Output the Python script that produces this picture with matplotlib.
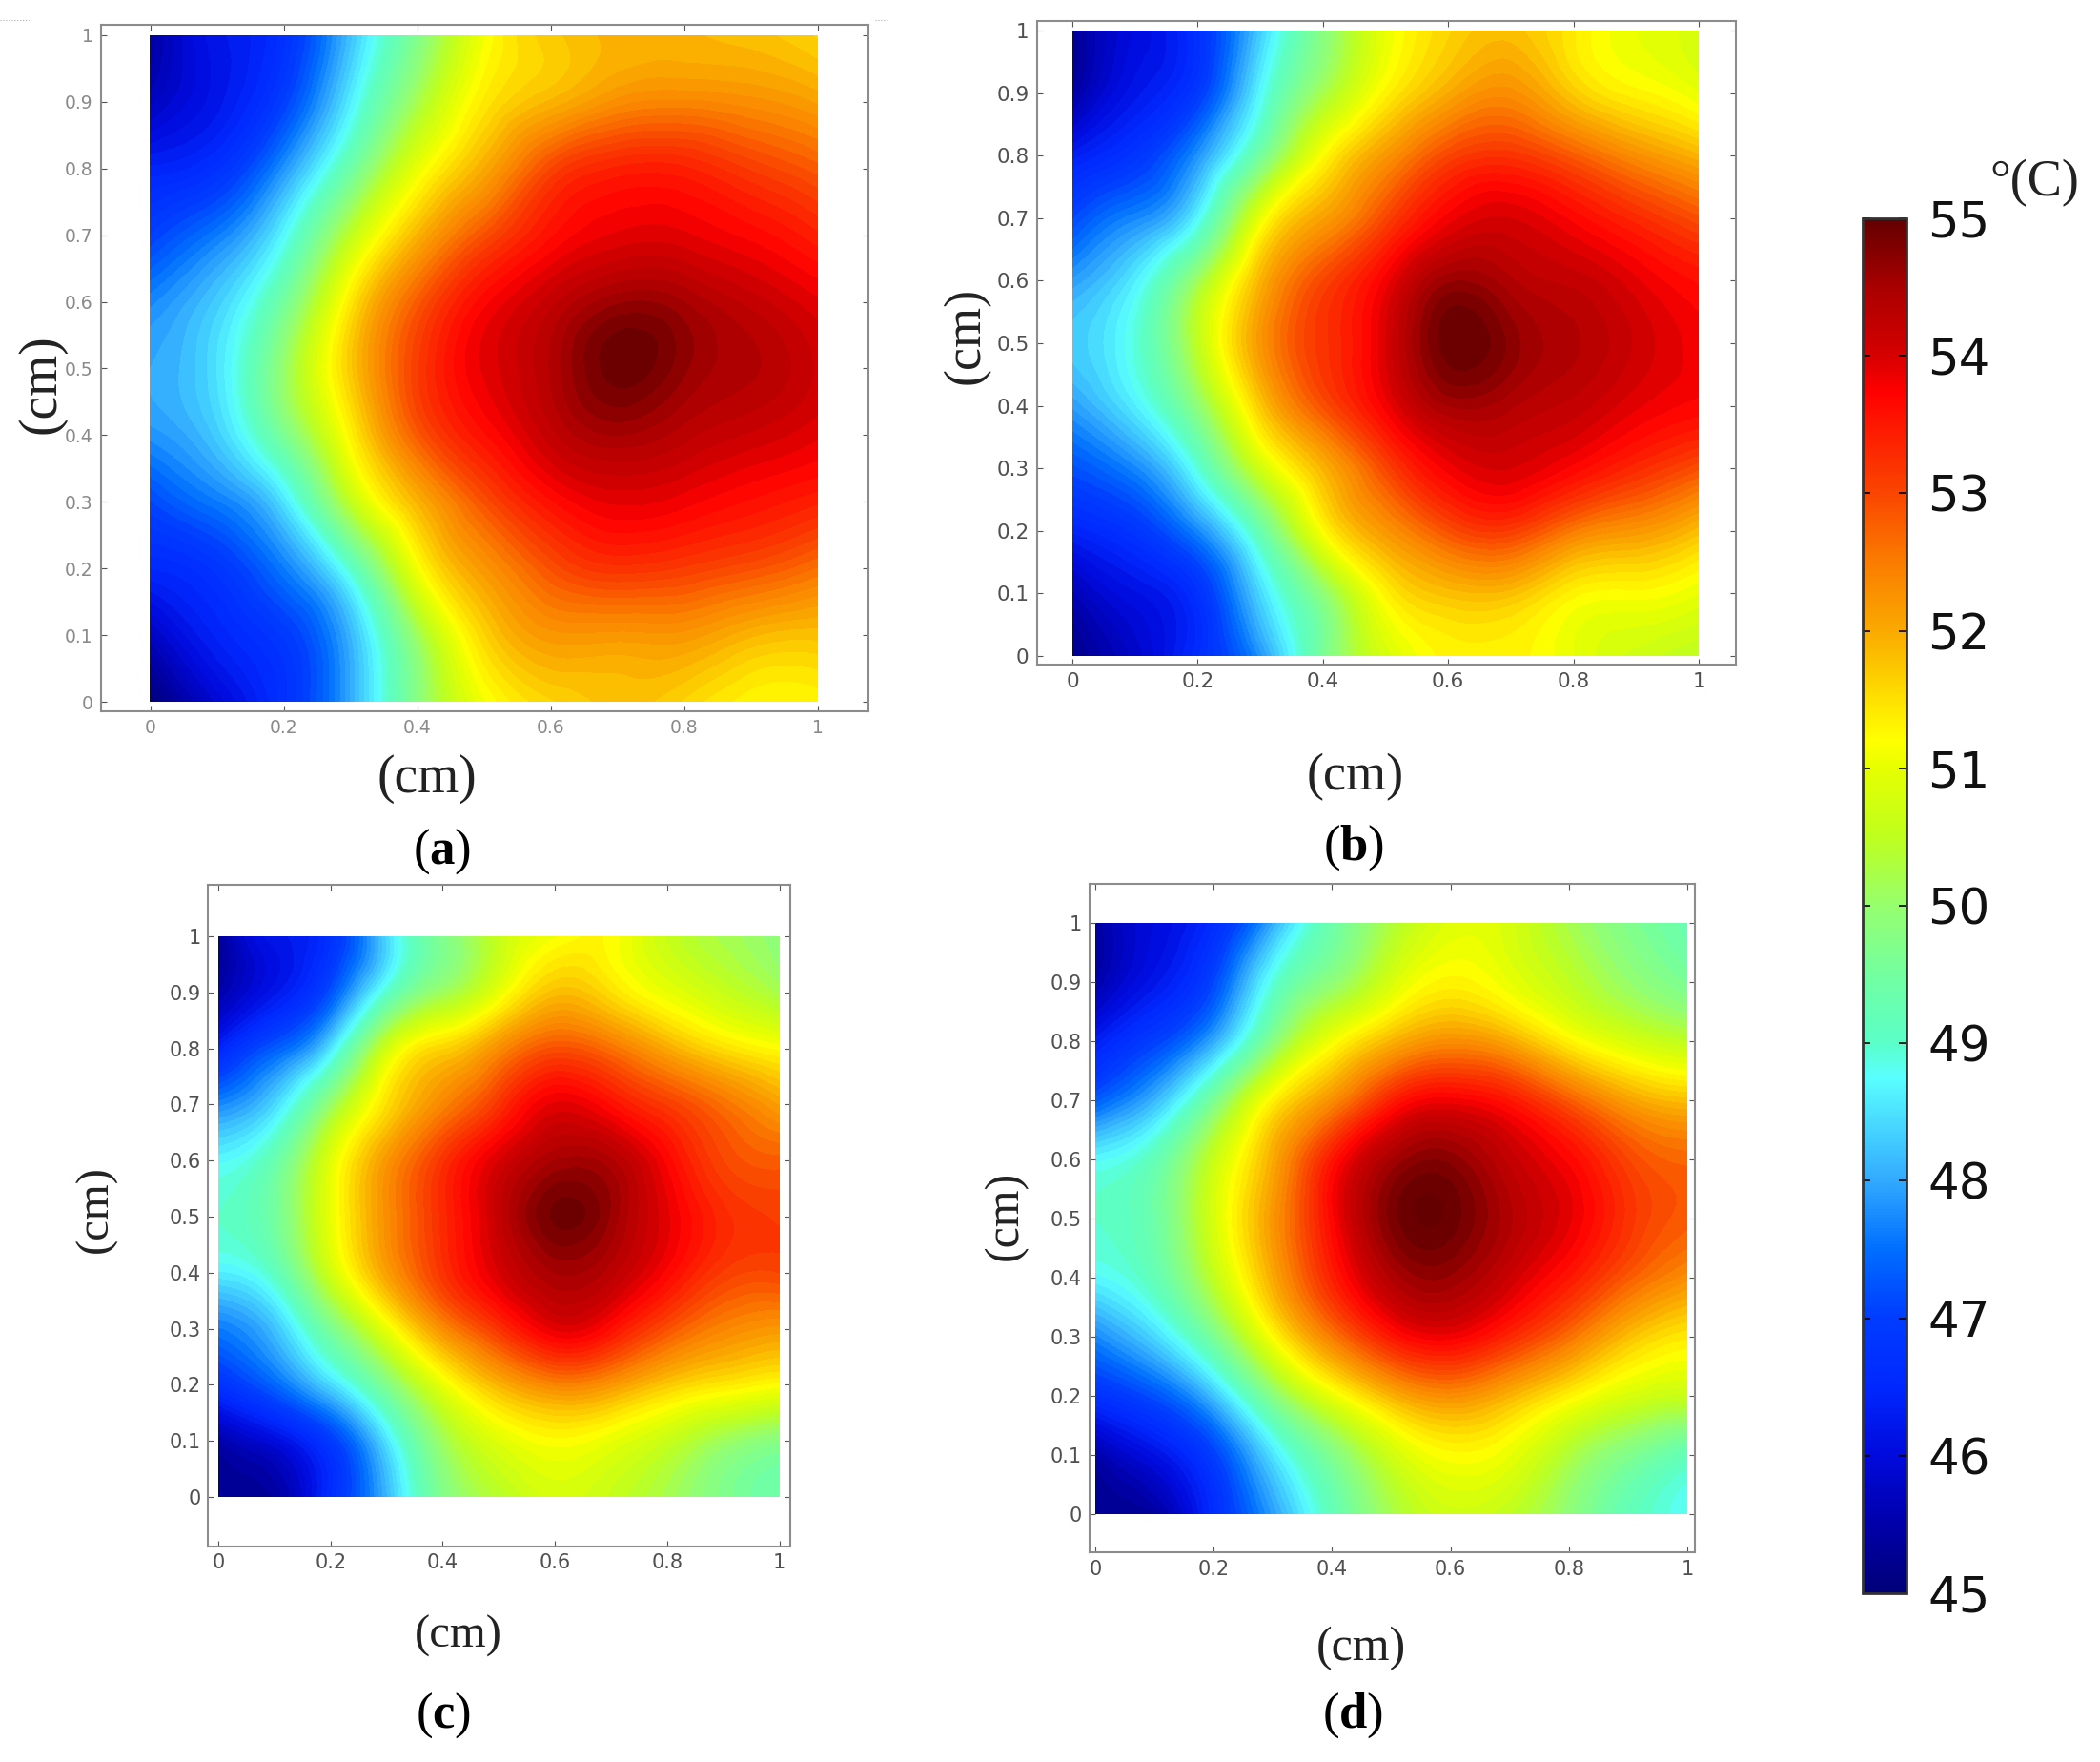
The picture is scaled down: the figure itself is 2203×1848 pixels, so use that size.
import numpy as np
import matplotlib
matplotlib.use('Agg')
import matplotlib.pyplot as plt
import matplotlib.tri as mtri
from matplotlib.colors import LinearSegmentedColormap
from matplotlib.lines import Line2D

W, H = 2203, 1848

plt.rcParams['mathtext.fontset'] = 'custom'
plt.rcParams['mathtext.rm'] = 'Liberation Serif'
plt.rcParams['mathtext.bf'] = 'Liberation Serif:bold'

# temperature, rows run from y=1 down to y=0, columns x=0..1
temp_a = [
    [45.4, 46.2, 46.7, 48.2, 49.7, 51.1, 51.7, 51.9, 51.9, 51.8, 51.6],
    [45.7, 46.2, 47.0, 48.6, 50.2, 51.4, 51.9, 52.3, 52.4, 52.3, 52.1],
    [46.4, 46.7, 47.8, 49.4, 51.0, 52.0, 53.0, 53.4, 53.4, 53.1, 52.8],
    [47.0, 47.6, 48.7, 50.5, 51.9, 52.9, 53.6, 53.9, 53.9, 53.7, 53.4],
    [47.7, 48.3, 49.5, 51.4, 52.8, 53.7, 54.2, 54.6, 54.5, 54.2, 53.9],
    [48.0, 48.5, 50.0, 51.7, 53.1, 53.9, 54.4, 54.95, 54.65, 54.4, 54.1],
    [47.8, 48.3, 49.6, 51.3, 52.8, 53.6, 54.2, 54.5, 54.3, 54.1, 53.9],
    [47.1, 47.6, 48.5, 50.5, 51.9, 52.9, 53.6, 53.9, 53.8, 53.6, 53.4],
    [46.5, 46.8, 47.6, 49.0, 51.1, 52.2, 52.9, 53.2, 53.1, 52.9, 52.6],
    [45.7, 46.4, 46.9, 48.1, 50.1, 51.6, 52.2, 52.2, 52.2, 51.9, 51.8],
    [45.0, 45.9, 46.7, 48.0, 49.8, 51.1, 51.6, 51.8, 51.6, 51.3, 51.3],
]
temp_b = [
    [45.3, 46.0, 46.7, 48.3, 49.8, 51.0, 51.6, 51.8, 51.4, 51.0, 50.8],
    [45.4, 46.2, 46.9, 48.7, 50.2, 51.3, 52.0, 52.3, 51.7, 51.3, 51.0],
    [46.3, 46.8, 47.8, 49.5, 51.2, 52.2, 53.0, 53.2, 52.8, 52.3, 51.9],
    [47.1, 47.7, 48.7, 51.0, 52.1, 53.0, 53.8, 54.0, 53.7, 53.3, 52.9],
    [47.9, 48.6, 50.1, 51.9, 53.0, 53.8, 54.6, 54.4, 54.2, 53.9, 53.6],
    [48.3, 48.9, 50.5, 52.2, 53.2, 54.0, 54.95, 54.7, 54.4, 54.1, 53.8],
    [47.9, 48.6, 49.9, 51.7, 52.9, 53.8, 54.5, 54.4, 54.2, 53.9, 53.7],
    [47.2, 47.7, 48.9, 50.7, 51.9, 53.0, 53.8, 54.0, 53.7, 53.3, 52.9],
    [46.4, 46.8, 47.7, 49.3, 51.2, 52.2, 52.9, 53.1, 52.5, 52.2, 51.8],
    [45.6, 46.1, 46.7, 48.4, 49.9, 51.3, 51.8, 51.8, 51.3, 51.2, 51.0],
    [45.2, 45.8, 46.6, 47.8, 49.6, 50.8, 51.3, 51.3, 51.0, 50.7, 50.5],
]
temp_c = [
    [45.3, 46.2, 46.7, 48.4, 49.7, 50.6, 51.1, 51.2, 50.6, 50.2, 49.9],
    [45.5, 46.2, 47.2, 49.0, 50.1, 51.0, 51.8, 51.5, 51.0, 50.6, 50.2],
    [46.4, 47.3, 48.5, 50.7, 51.6, 52.3, 52.9, 52.6, 52.0, 51.5, 51.2],
    [47.7, 48.4, 50.0, 51.5, 52.4, 53.2, 53.9, 53.6, 53.1, 52.6, 52.1],
    [48.7, 49.3, 50.9, 52.2, 53.2, 54.0, 54.5, 54.4, 53.7, 53.0, 52.8],
    [49.0, 49.5, 51.0, 52.3, 53.3, 54.2, 54.9, 54.6, 53.9, 53.3, 53.1],
    [48.6, 49.1, 50.7, 52.1, 53.2, 54.0, 54.5, 54.3, 53.7, 53.1, 53.0],
    [47.6, 48.2, 49.6, 51.0, 52.3, 53.2, 53.9, 53.6, 52.9, 52.4, 52.2],
    [46.7, 47.4, 48.4, 49.7, 51.0, 51.9, 52.4, 52.2, 51.7, 51.4, 51.2],
    [45.5, 46.0, 46.9, 48.5, 50.1, 50.9, 51.2, 51.0, 50.6, 50.1, 49.8],
    [45.4, 45.4, 46.6, 48.1, 49.7, 50.4, 50.8, 50.6, 50.2, 49.7, 49.4],
]
temp_d = [
    [45.4, 46.0, 46.6, 48.0, 49.4, 50.3, 50.9, 50.8, 50.2, 49.7, 49.3],
    [45.5, 46.2, 47.1, 48.9, 49.9, 50.8, 51.3, 51.0, 50.5, 50.0, 49.6],
    [46.3, 47.0, 48.0, 49.8, 51.1, 51.9, 52.3, 52.0, 51.3, 50.8, 50.5],
    [47.3, 48.1, 49.6, 51.3, 52.3, 53.4, 53.8, 53.5, 52.8, 52.1, 51.8],
    [48.7, 49.2, 50.6, 52.0, 53.5, 54.5, 54.7, 54.2, 53.7, 53.0, 52.7],
    [49.0, 49.4, 50.8, 52.2, 53.7, 54.8, 54.95, 54.4, 53.9, 53.2, 52.8],
    [48.7, 49.2, 50.5, 52.0, 53.4, 54.4, 54.6, 54.1, 53.5, 52.8, 52.3],
    [47.7, 48.4, 49.6, 51.2, 52.5, 53.5, 53.8, 53.3, 52.6, 51.8, 51.4],
    [46.7, 47.2, 48.2, 49.8, 51.0, 51.9, 52.3, 51.9, 51.3, 50.8, 50.6],
    [45.5, 46.1, 47.0, 48.5, 49.7, 50.7, 51.2, 51.0, 50.3, 49.7, 49.2],
    [45.3, 45.4, 46.6, 47.9, 49.2, 50.2, 50.7, 50.5, 49.9, 49.2, 48.8],
]

grid_x = [0, 0.1, 0.2, 0.3, 0.4, 0.5, 0.6, 0.7, 0.8, 0.9, 1]
grid_y = [1, 0.9, 0.8, 0.7, 0.6, 0.5, 0.4, 0.3, 0.2, 0.1, 0]
x_ticks = [0, 0.2, 0.4, 0.6, 0.8, 1]
x_labels = ['0', '0.2', '0.4', '0.6', '0.8', '1']
y_ticks = [0, 0.1, 0.2, 0.3, 0.4, 0.5, 0.6, 0.7, 0.8, 0.9, 1]
y_labels = ['0', '0.1', '0.2', '0.3', '0.4', '0.5', '0.6', '0.7', '0.8', '0.9', '1']
bar_ticks = [45, 46, 47, 48, 49, 50, 51, 52, 53, 54, 55]

# colours taken off the colour bar, temperature -> rgb
bar_stops = [
    (45, (0, 0, 120)), (45.5, (0, 0, 170)), (46, (0, 10, 220)), (46.5, (0, 40, 255)),
    (47, (0, 60, 255)), (47.5, (0, 110, 255)), (48, (50, 170, 255)), (48.75, (90, 255, 255)),
    (49, (90, 255, 200)), (49.5, (115, 255, 160)), (50, (150, 255, 110)), (50.5, (190, 255, 30)),
    (51, (230, 255, 0)), (51.2, (255, 255, 0)), (51.5, (255, 225, 0)), (52, (250, 170, 0)),
    (52.5, (250, 125, 0)), (53, (250, 70, 0)), (53.75, (255, 0, 0)), (54, (215, 0, 0)),
    (54.5, (170, 0, 0)), (55, (100, 0, 0)),
]
bar_cmap = LinearSegmentedColormap.from_list(
    'bar', [((t - 45) / 10, tuple(c / 255 for c in rgb)) for t, rgb in bar_stops], N=512)

# frame l,r,t,b and where 0..1 falls, all in image pixels
panels = [
    dict(z=temp_a, frame=(106, 911, 26, 746), x01=(157.5, 858), y01=(736, 37), tick='#8a8a8a', ts=13.5, pad=6,
         letter='a', lp=(464, 893), ls=38, xl=(448, 817), yl=(44, 403), cs=40),
    dict(z=temp_b, frame=(1088, 1821, 22, 697), x01=(1125, 1782), y01=(688, 32), tick='#505050', ts=15.5, pad=6,
         letter='b', lp=(1420, 889), ls=38, xl=(1422, 815), yl=(1014, 352), cs=39),
    dict(z=temp_c, frame=(218, 829, 928, 1622), x01=(229, 817.5), y01=(1570, 982), tick='#505050', ts=15, pad=5,
         letter='c', lp=(465, 1799), ls=38, xl=(481, 1716), yl=(101, 1268), cs=35),
    dict(z=temp_d, frame=(1143, 1778, 927, 1628), x01=(1149, 1770), y01=(1588, 968), tick='#505050', ts=15, pad=6,
         letter='d', lp=(1419, 1799), ls=38, xl=(1428, 1729), yl=(1055, 1275), cs=36),
]

levels = np.linspace(45, 55, 81)
serif = 'Liberation Serif'

fig = plt.figure(figsize=(W / 100, H / 100), dpi=100, facecolor='white')


def place(px, py):
    return px / W, 1 - py / H


gx, gy = np.meshgrid(grid_x, grid_y)
tri = mtri.Triangulation(gx.ravel(), gy.ravel())
refiner = mtri.UniformTriRefiner(tri)

for p in panels:
    l, r, t, b = p['frame']
    ax = fig.add_axes([l / W, 1 - b / H, (r - l) / W, (b - t) / H])

    # smooth the coarse grid, then banded fill like the original map
    fine_tri, fine_z = refiner.refine_field(np.array(p['z'], dtype=float).ravel(), subdiv=3)
    ax.tricontourf(fine_tri, fine_z, levels=levels, cmap=bar_cmap, vmin=45, vmax=55, extend='both')

    x0, x1 = p['x01']
    y0, y1 = p['y01']
    ax.set_xlim((l - x0) / (x1 - x0), (r - x0) / (x1 - x0))
    ax.set_ylim((b - y0) / (y1 - y0), (t - y0) / (y1 - y0))
    ax.set_xticks(x_ticks, x_labels)
    ax.set_yticks(y_ticks, y_labels)
    ax.tick_params(direction='in', top=True, right=True, length=4, width=0.8, color='#555555',
                   labelcolor=p['tick'], labelsize=p['ts'], pad=p['pad'])
    for s in ax.spines.values():
        s.set_color('#8c8c8c')
        s.set_linewidth(1.5)

    fx, fy = place(*p['xl'])
    fig.text(fx, fy, '(cm)', family=serif, fontsize=p['cs'], color='#222222', ha='center', va='center')
    fx, fy = place(*p['yl'])
    fig.text(fx, fy, '(cm)', family=serif, fontsize=p['cs'], color='#222222', ha='center', va='center',
             rotation=90)
    fx, fy = place(*p['lp'])
    fig.text(fx, fy, '(' + r'$\mathbf{' + p['letter'] + '}$' + ')', family=serif, fontsize=p['ls'],
             color='black', ha='center', va='center')

# shared colour bar
cax = fig.add_axes([1954 / W, 1 - 1671 / H, 46 / W, (1671 - 229) / H])
sm = plt.cm.ScalarMappable(norm=plt.Normalize(45, 55), cmap=bar_cmap)
cb = fig.colorbar(sm, cax=cax, ticks=bar_ticks)
cb.ax.tick_params(direction='in', left=True, right=True, length=6, width=1.2, color='black',
                  labelsize=37, pad=16, labelcolor='#111111')
cb.outline.set_edgecolor('#333333')
cb.outline.set_linewidth(2)

fx, fy = place(2087, 192)
fig.text(fx, fy, '\u00b0(C)', family=serif, fontsize=39, color='#222222', ha='left', va='center')

# little scan leftovers along the top edge
for xa, xb in [(0, 30), (918, 932)]:
    fig.add_artist(Line2D([xa / W, xb / W], [1 - 21 / H, 1 - 21 / H], color='#aaaaaa', lw=0.8, ls=':'))

fig.savefig('out.png', dpi=100)
